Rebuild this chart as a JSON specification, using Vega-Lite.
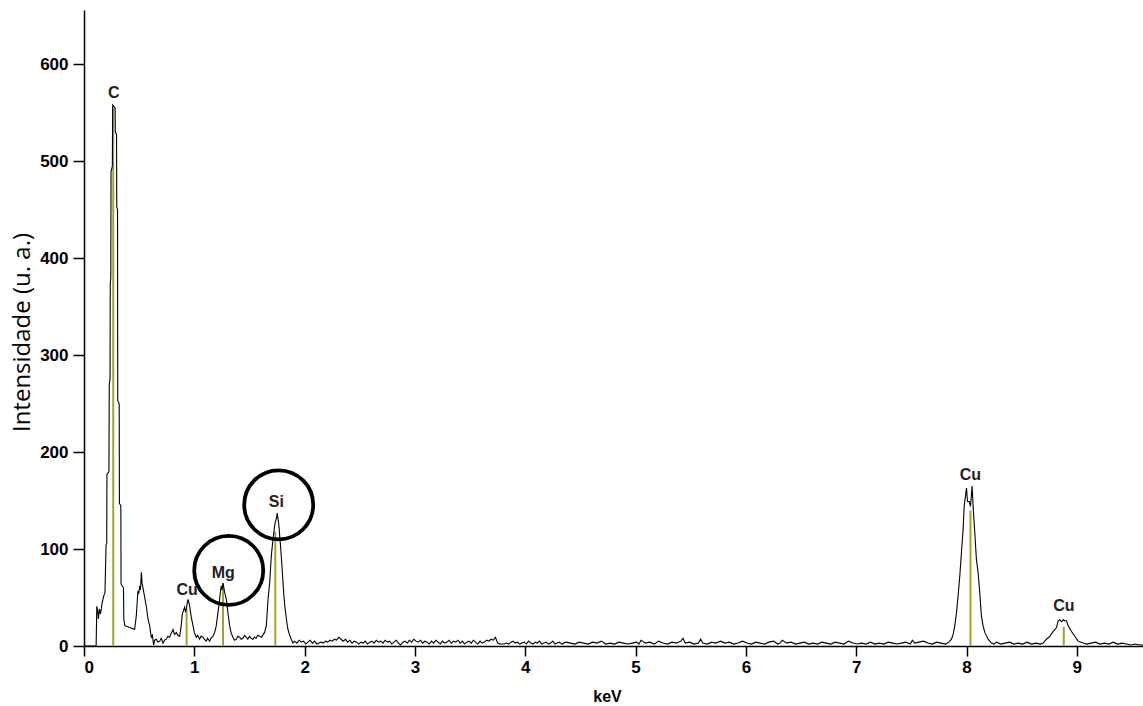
{
  "$schema": "https://vega.github.io/schema/vega-lite/v6.json",
  "width": 1059,
  "height": 636,
  "autosize": {"type": "none"},
  "padding": {"left": 84, "top": 10, "right": 0, "bottom": 60},
  "background": "white",
  "config": {"view": {"stroke": null}, "axis": {"grid": false}},
  "datasets": {
    "spec": [
      {"e":0,"c":0},{"e":0.1,"c":0},{"e":0.11,"c":0},{"e":0.116,"c":41},{"e":0.125,"c":36},{"e":0.13,"c":28},{"e":0.14,"c":38},{"e":0.15,"c":33},{"e":0.165,"c":45},{"e":0.18,"c":52},{"e":0.19,"c":55},{"e":0.2,"c":104},{"e":0.206,"c":106},{"e":0.208,"c":177},{"e":0.226,"c":180},{"e":0.229,"c":270},{"e":0.236,"c":275},{"e":0.238,"c":374},{"e":0.243,"c":380},{"e":0.245,"c":489},{"e":0.257,"c":495},{"e":0.26,"c":558},{"e":0.282,"c":555},{"e":0.284,"c":530},{"e":0.295,"c":528},{"e":0.297,"c":453},{"e":0.304,"c":450},{"e":0.306,"c":253},{"e":0.319,"c":250},{"e":0.321,"c":147},{"e":0.334,"c":145},{"e":0.336,"c":64},{"e":0.358,"c":60},{"e":0.361,"c":28},
      {"e":0.37,"c":21},{"e":0.39,"c":20},{"e":0.414,"c":19},{"e":0.44,"c":18},{"e":0.459,"c":17},{"e":0.474,"c":31},{"e":0.489,"c":57},{"e":0.497,"c":55},{"e":0.505,"c":62},{"e":0.512,"c":58},{"e":0.52,"c":76},{"e":0.527,"c":64},{"e":0.535,"c":60},{"e":0.55,"c":50},{"e":0.565,"c":41},{"e":0.58,"c":28},{"e":0.595,"c":21},{"e":0.61,"c":9},{"e":0.62,"c":11},{"e":0.631,"c":1},{"e":0.64,"c":6},{"e":0.656,"c":7},{"e":0.67,"c":4},{"e":0.686,"c":5},{"e":0.7,"c":8},{"e":0.716,"c":3},{"e":0.73,"c":6},{"e":0.746,"c":7},{"e":0.76,"c":10},{"e":0.776,"c":9},{"e":0.79,"c":13},{"e":0.807,"c":17},{"e":0.82,"c":12},{"e":0.837,"c":14},{"e":0.85,"c":11},{"e":0.867,"c":10},{"e":0.88,"c":20},{"e":0.891,"c":33},{"e":0.9,"c":36},{"e":0.912,"c":40},{"e":0.92,"c":35},{"e":0.927,"c":38},{"e":0.935,"c":44},{"e":0.943,"c":48},{"e":0.95,"c":45},{"e":0.958,"c":41},{"e":0.972,"c":30},{"e":0.988,"c":21},{"e":1.0,"c":14},{"e":1.018,"c":9},{"e":1.03,"c":11},{"e":1.048,"c":7},{"e":1.06,"c":10},{"e":1.079,"c":9},{"e":1.09,"c":7},{"e":1.109,"c":5},{"e":1.12,"c":8},{"e":1.139,"c":5},{"e":1.15,"c":8},{"e":1.169,"c":10},{"e":1.185,"c":14},{"e":1.199,"c":21},{"e":1.215,"c":35},{"e":1.229,"c":48},{"e":1.238,"c":57},{"e":1.245,"c":62},{"e":1.252,"c":58},{"e":1.26,"c":65},{"e":1.268,"c":60},{"e":1.275,"c":55},{"e":1.283,"c":52},{"e":1.29,"c":48},{"e":1.305,"c":34},{"e":1.32,"c":21},{"e":1.335,"c":13},{"e":1.35,"c":9},{"e":1.365,"c":6},{"e":1.381,"c":7},{"e":1.395,"c":10},{"e":1.411,"c":9},{"e":1.425,"c":7},{"e":1.44,"c":8},{"e":1.455,"c":11},{"e":1.471,"c":9},{"e":1.485,"c":7},{"e":1.5,"c":10},{"e":1.515,"c":8},{"e":1.532,"c":7},{"e":1.545,"c":9},{"e":1.56,"c":8},{"e":1.575,"c":11},{"e":1.592,"c":10},{"e":1.61,"c":9},{"e":1.625,"c":12},{"e":1.637,"c":14},{"e":1.653,"c":21},{"e":1.668,"c":48},{"e":1.683,"c":65},{"e":1.698,"c":93},{"e":1.713,"c":110},{"e":1.722,"c":118},{"e":1.728,"c":124},{"e":1.735,"c":128},{"e":1.743,"c":131},{"e":1.752,"c":137},{"e":1.76,"c":130},{"e":1.767,"c":124},{"e":1.775,"c":112},{"e":1.782,"c":103},{"e":1.79,"c":90},{"e":1.798,"c":76},{"e":1.81,"c":55},{"e":1.82,"c":42},{"e":1.828,"c":34},{"e":1.838,"c":25},{"e":1.849,"c":17},{"e":1.862,"c":12},{"e":1.879,"c":7},{"e":1.894,"c":3},
      {"e":1.91,"c":5},{"e":1.93,"c":3},{"e":1.95,"c":6},{"e":1.97,"c":4},{"e":1.99,"c":5},{"e":2.01,"c":2},{"e":2.03,"c":4},{"e":2.05,"c":6},{"e":2.07,"c":3},{"e":2.09,"c":5},{"e":2.11,"c":2},{"e":2.13,"c":3},{"e":2.15,"c":4},{"e":2.17,"c":3},{"e":2.19,"c":5},{"e":2.21,"c":4},{"e":2.23,"c":6},{"e":2.25,"c":5},{"e":2.27,"c":7},{"e":2.29,"c":6},{"e":2.31,"c":9},{"e":2.33,"c":7},{"e":2.35,"c":5},{"e":2.37,"c":7},{"e":2.39,"c":4},{"e":2.41,"c":6},{"e":2.43,"c":3},{"e":2.45,"c":5},{"e":2.47,"c":4},{"e":2.49,"c":2},{"e":2.51,"c":4},{"e":2.53,"c":3},{"e":2.55,"c":5},{"e":2.57,"c":2},{"e":2.59,"c":4},{"e":2.61,"c":5},{"e":2.63,"c":3},{"e":2.65,"c":6},{"e":2.67,"c":4},{"e":2.69,"c":5},{"e":2.71,"c":3},{"e":2.73,"c":6},{"e":2.75,"c":4},{"e":2.77,"c":5},{"e":2.79,"c":2},{"e":2.81,"c":4},{"e":2.83,"c":6},{"e":2.85,"c":3},{"e":2.87,"c":1},{"e":2.89,"c":4},{"e":2.91,"c":5},{"e":2.93,"c":3},{"e":2.95,"c":6},{"e":2.97,"c":4},{"e":2.99,"c":7},{"e":3.01,"c":5},{"e":3.03,"c":4},{"e":3.05,"c":6},{"e":3.07,"c":3},{"e":3.09,"c":5},{"e":3.11,"c":4},{"e":3.13,"c":2},{"e":3.15,"c":5},{"e":3.17,"c":3},{"e":3.19,"c":6},{"e":3.21,"c":4},{"e":3.23,"c":2},{"e":3.25,"c":5},{"e":3.27,"c":3},{"e":3.29,"c":4},{"e":3.31,"c":6},{"e":3.33,"c":3},{"e":3.35,"c":5},{"e":3.37,"c":4},{"e":3.39,"c":6},{"e":3.41,"c":3},{"e":3.43,"c":5},{"e":3.45,"c":2},{"e":3.47,"c":4},{"e":3.49,"c":5},{"e":3.51,"c":3},{"e":3.53,"c":6},{"e":3.55,"c":4},{"e":3.57,"c":2},{"e":3.59,"c":5},{"e":3.61,"c":3},{"e":3.63,"c":4},{"e":3.65,"c":6},{"e":3.67,"c":5},{"e":3.69,"c":7},{"e":3.71,"c":6},{"e":3.73,"c":9},{"e":3.75,"c":3},{"e":3.77,"c":2},{"e":3.79,"c":2},{"e":3.81,"c":2},{"e":3.83,"c":3},{"e":3.85,"c":2},{"e":3.87,"c":4},{"e":3.89,"c":5},{"e":3.91,"c":3},{"e":3.93,"c":4},{"e":3.95,"c":2},{"e":3.97,"c":3},{"e":3.99,"c":4},{"e":4.01,"c":2},{"e":4.03,"c":5},{"e":4.05,"c":3},{"e":4.07,"c":2},{"e":4.09,"c":4},{"e":4.11,"c":3},{"e":4.13,"c":5},{"e":4.15,"c":2},{"e":4.17,"c":3},{"e":4.19,"c":4},{"e":4.21,"c":2},{"e":4.23,"c":3},{"e":4.25,"c":5},{"e":4.27,"c":2},{"e":4.29,"c":3},{"e":4.31,"c":4},
      {"e":4.33,"c":2},{"e":4.37,"c":4},{"e":4.41,"c":3},{"e":4.45,"c":2},{"e":4.49,"c":4},{"e":4.53,"c":3},{"e":4.57,"c":2},{"e":4.61,"c":4},{"e":4.65,"c":3},{"e":4.69,"c":5},{"e":4.73,"c":2},{"e":4.77,"c":3},{"e":4.81,"c":2},{"e":4.85,"c":4},{"e":4.89,"c":3},{"e":4.93,"c":2},{"e":4.97,"c":3},{"e":5.01,"c":4},{"e":5.03,"c":2},{"e":5.05,"c":6},{"e":5.09,"c":3},{"e":5.13,"c":4},{"e":5.17,"c":2},{"e":5.21,"c":5},{"e":5.25,"c":3},{"e":5.29,"c":2},{"e":5.33,"c":4},{"e":5.37,"c":3},{"e":5.41,"c":5},{"e":5.43,"c":8},{"e":5.45,"c":3},{"e":5.49,"c":4},{"e":5.53,"c":2},{"e":5.57,"c":3},{"e":5.59,"c":7},{"e":5.61,"c":3},{"e":5.65,"c":2},{"e":5.69,"c":4},{"e":5.73,"c":3},{"e":5.77,"c":5},{"e":5.81,"c":3},{"e":5.85,"c":4},{"e":5.89,"c":2},{"e":5.93,"c":3},{"e":5.97,"c":5},{"e":6.01,"c":3},{"e":6.05,"c":2},{"e":6.09,"c":4},{"e":6.13,"c":3},{"e":6.17,"c":2},{"e":6.21,"c":4},{"e":6.25,"c":5},{"e":6.29,"c":2},{"e":6.31,"c":3},{"e":6.33,"c":6},{"e":6.37,"c":3},{"e":6.41,"c":4},{"e":6.45,"c":2},{"e":6.49,"c":3},{"e":6.53,"c":4},{"e":6.57,"c":2},{"e":6.61,"c":3},{"e":6.65,"c":2},{"e":6.69,"c":4},{"e":6.73,"c":3},{"e":6.77,"c":2},{"e":6.81,"c":4},{"e":6.85,"c":3},{"e":6.89,"c":2},{"e":6.93,"c":5},{"e":6.97,"c":3},{"e":7.01,"c":2},{"e":7.05,"c":3},{"e":7.09,"c":2},{"e":7.13,"c":4},{"e":7.17,"c":2},{"e":7.21,"c":3},{"e":7.25,"c":2},{"e":7.29,"c":4},{"e":7.33,"c":3},{"e":7.37,"c":2},{"e":7.41,"c":3},{"e":7.45,"c":4},{"e":7.49,"c":2},{"e":7.51,"c":6},{"e":7.53,"c":3},{"e":7.57,"c":4},{"e":7.61,"c":5},{"e":7.65,"c":3},{"e":7.69,"c":2},{"e":7.73,"c":4},{"e":7.77,"c":3},{"e":7.81,"c":2},{"e":7.84,"c":4},
      {"e":7.864,"c":7},{"e":7.879,"c":12},{"e":7.894,"c":21},{"e":7.909,"c":34},{"e":7.924,"c":52},{"e":7.939,"c":72},{"e":7.954,"c":96},{"e":7.969,"c":120},{"e":7.979,"c":144},{"e":7.991,"c":155},{"e":8.0,"c":163},{"e":8.009,"c":149},{"e":8.024,"c":149},{"e":8.036,"c":144},{"e":8.051,"c":165},{"e":8.06,"c":144},{"e":8.075,"c":117},{"e":8.09,"c":89},{"e":8.105,"c":76},{"e":8.12,"c":55},{"e":8.135,"c":31},{"e":8.15,"c":21},{"e":8.166,"c":14},{"e":8.196,"c":7},{"e":8.226,"c":3},
      {"e":8.25,"c":2},{"e":8.27,"c":4},{"e":8.29,"c":3},{"e":8.31,"c":2},{"e":8.35,"c":3},{"e":8.39,"c":4},{"e":8.43,"c":2},{"e":8.47,"c":3},{"e":8.51,"c":2},{"e":8.55,"c":4},{"e":8.59,"c":2},{"e":8.63,"c":3},{"e":8.67,"c":2},{"e":8.695,"c":3},{"e":8.725,"c":7},{"e":8.755,"c":10},{"e":8.786,"c":15},{"e":8.816,"c":19},{"e":8.831,"c":26},{"e":8.846,"c":27},{"e":8.861,"c":25},{"e":8.876,"c":27},{"e":8.891,"c":26},{"e":8.906,"c":26},{"e":8.921,"c":21},{"e":8.952,"c":15},{"e":8.982,"c":10},{"e":9.012,"c":5},{"e":9.058,"c":3},
      {"e":9.09,"c":2},{"e":9.13,"c":3},{"e":9.17,"c":4},{"e":9.21,"c":2},{"e":9.25,"c":3},{"e":9.29,"c":2},{"e":9.33,"c":4},{"e":9.37,"c":2},{"e":9.41,"c":3},{"e":9.45,"c":2},{"e":9.49,"c":1},{"e":9.53,"c":2},{"e":9.57,"c":1},{"e":9.6,"c":1}
    ],
    "lines": [
      {"e":0.265,"h":555},{"e":0.93,"h":38},{"e":1.26,"h":65},{"e":1.734,"h":118},{"e":8.036,"h":140},{"e":8.882,"h":20}
    ],
    "labels": [
      {"e":0.27,"v":570,"t":"C"},{"e":0.934,"v":58,"t":"Cu"},{"e":1.262,"v":75,"t":"Mg"},{"e":1.744,"v":149,"t":"Si"},{"e":8.036,"v":176,"t":"Cu"},{"e":8.882,"v":41,"t":"Cu"}
    ],
    "circles": [
      {"e":1.312,"v":78},{"e":1.765,"v":145.6}
    ]
  },
  "layer": [
    {
      "data": {"name": "lines"},
      "mark": {"type": "rule", "color": "#a3a32c", "strokeWidth": 2},
      "encoding": {
        "x": {"field": "e", "type": "quantitative", "scale": {"domain": [0, 9.6], "nice": false, "zero": false},
          "axis": {"title": "keV", "values": [0,1,2,3,4,5,6,7,8,9], "format": "d", "labelFont": "Liberation Sans", "labelFontWeight": "bold", "labelFontSize": 17, "labelColor": "#000", "labelPadding": 3, "tickSize": 10, "tickWidth": 1.5, "tickColor": "#000", "domainColor": "#000", "domainWidth": 1.5, "titleFont": "Liberation Sans", "titleFontWeight": "bold", "titleFontSize": 16, "titleColor": "#000", "titleX": 523, "titleY": 42, "titleBaseline": "top", "titleAlign": "center"}},
        "y": {"field": "h", "type": "quantitative", "scale": {"domain": [0, 656], "nice": false},
          "axis": {"title": "Intensidade (u. a.)", "values": [0,100,200,300,400,500,600], "labelFont": "Liberation Sans", "labelFontWeight": "bold", "labelFontSize": 17, "labelColor": "#000", "labelPadding": 5, "tickSize": 11, "tickWidth": 1.5, "tickColor": "#000", "domainColor": "#000", "domainWidth": 1.5, "titleFont": "Open Sans", "titleFontWeight": "normal", "titleFontSize": 24, "titleColor": "#000", "titleAngle": 270, "titleX": -62, "titleY": 322, "titleBaseline": "middle", "titleAlign": "center"}},
        "y2": {"datum": 0}
      }
    },
    {
      "data": {"name": "spec"},
      "mark": {"type": "line", "color": "#000", "strokeWidth": 1.1, "interpolate": "linear"},
      "encoding": {
        "x": {"field": "e", "type": "quantitative"},
        "y": {"field": "c", "type": "quantitative"}
      }
    },
    {
      "data": {"name": "labels"},
      "mark": {"type": "text", "font": "Liberation Sans", "fontWeight": "bold", "fontSize": 16, "color": "#222", "baseline": "middle", "align": "center"},
      "encoding": {
        "x": {"field": "e", "type": "quantitative"},
        "y": {"field": "v", "type": "quantitative"},
        "text": {"field": "t"}
      }
    },
    {
      "data": {"name": "circles"},
      "mark": {"type": "point", "shape": "circle", "filled": false, "stroke": "#000", "strokeWidth": 3.8, "size": 4761, "opacity": 1},
      "encoding": {
        "x": {"field": "e", "type": "quantitative"},
        "y": {"field": "v", "type": "quantitative"}
      }
    }
  ]
}
